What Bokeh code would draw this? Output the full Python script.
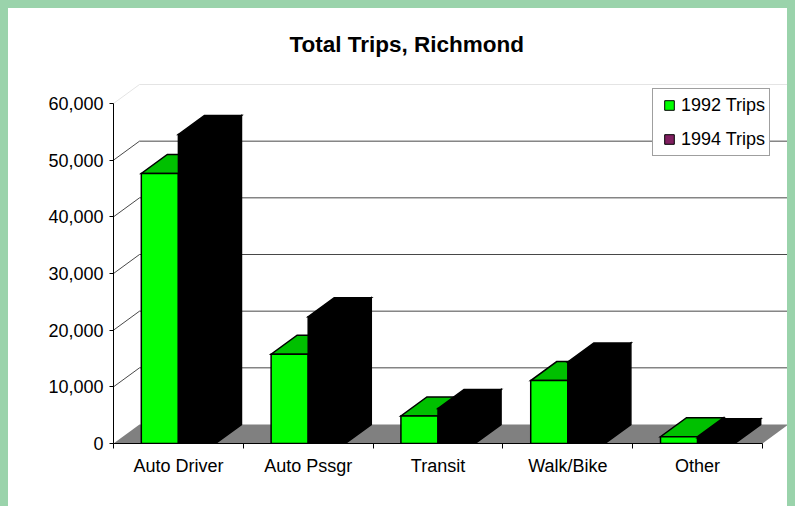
import math
from bokeh.plotting import figure
from bokeh.models import (Range1d, FixedTicker, NumeralTickFormatter, Legend, LegendItem,
                          ColumnDataSource)
from bokeh.embed import file_html
from bokeh.resources import INLINE

# ---------------- data ----------------
categories = ["Auto Driver", "Auto Pssgr", "Transit", "Walk/Bike", "Other"]
trips_1992 = [47650, 15750, 4870, 11100, 1200]
trips_1994 = [54550, 22350, 6180, 14400, 1000]
series_names = ["1992 Trips", "1994 Trips"]
y_ticks = [0, 10000, 20000, 30000, 40000, 50000, 60000]
chart_title = "Total Trips, Richmond"

# ---------------- geometry / style ----------------
FONT = "Liberation Sans"
PX_PER_CAT = 129.8
PX_PER_VAL = 340.0 / 60000.0
FRAME_W = 682
FRAME_H = 373
DEPTH_X = 26.0 / PX_PER_CAT
DEPTH_Y = 19.0 / PX_PER_VAL
BAR_W = 1.0 / 3.5
GAP = (1.0 - 2 * BAR_W) / 2.0

n = len(categories)
y_max_axis = y_ticks[-1]

p = figure(frame_width=FRAME_W, frame_height=FRAME_H,
           x_range=Range1d(0, FRAME_W / PX_PER_CAT),
           y_range=Range1d(0, FRAME_H / PX_PER_VAL),
           output_backend="svg", toolbar_location=None,
           min_border_left=105, min_border_right=0, min_border_top=62, min_border_bottom=63,
           background_fill_color="white", background_fill_alpha=0.0,
           border_fill_color="white", border_fill_alpha=0.0,
           outline_line_color=None)
p.styles = {"outline": "1px solid #5a5a5a", "background-color": "white"}
p.xgrid.visible = False
p.ygrid.visible = False

# title
p.title.text = chart_title
p.title.text_font = FONT
p.title.text_font_style = "bold"
p.title.text_font_size = "22.5px"
p.title.text_color = "black"
p.title.align = "left"
p.title.offset = 176
p.title.standoff = 27

# y axis
ya = p.yaxis[0]
ya.ticker = FixedTicker(ticks=y_ticks)
ya.formatter = NumeralTickFormatter(format="0,0")
ya.bounds = (0, y_max_axis)
ya.major_tick_out = 4
ya.major_tick_in = 0
ya.minor_tick_out = 0
ya.minor_tick_in = 0
ya.major_label_standoff = 6
ya.major_label_text_font = FONT
ya.major_label_text_font_size = "18px"
ya.major_label_text_color = "black"
ya.axis_line_color = "black"
ya.major_tick_line_color = "black"

# x axis (category labels at centres, tick marks at boundaries)
xa = p.xaxis[0]
centres = [i + 0.5 for i in range(n)]
xa.ticker = FixedTicker(ticks=centres, minor_ticks=list(range(n + 1)))
xa.major_label_overrides = {c: name for c, name in zip(centres, categories)}
xa.bounds = (0, n)
xa.major_tick_out = 0
xa.major_tick_in = 0
xa.minor_tick_out = 5
xa.minor_tick_in = 0
xa.minor_tick_line_color = "black"
xa.axis_line_color = "black"
xa.major_label_standoff = 7
xa.major_label_text_font = FONT
xa.major_label_text_font_size = "18px"
xa.major_label_text_color = "black"

# floor
p.patch(x=[0, n, n + DEPTH_X, DEPTH_X], y=[0, 0, DEPTH_Y, DEPTH_Y],
        fill_color="#808080", line_color=None)

# walls gridlines (left wall diagonals + back wall lines)
grid_vals = y_ticks[1:]
for v in grid_vals:
    col = "#e4e4e4" if v == y_max_axis else "#484848"
    p.segment(x0=[0, DEPTH_X], y0=[v, v + DEPTH_Y], x1=[DEPTH_X, n + DEPTH_X],
              y1=[v + DEPTH_Y, v + DEPTH_Y], line_color=col, line_width=1)


def bar_faces(values, s):
    fx0, fx1, fy0, fy1 = [], [], [], []
    tx, ty, sx, sy = [], [], [], []
    for i, v in enumerate(values):
        x0 = i + GAP + s * BAR_W
        x1 = x0 + BAR_W
        fx0.append(x0); fx1.append(x1); fy0.append(0); fy1.append(v)
        tx.append([x0, x1, x1 + DEPTH_X, x0 + DEPTH_X])
        ty.append([v, v, v + DEPTH_Y, v + DEPTH_Y])
        sx.append([x1, x1 + DEPTH_X, x1 + DEPTH_X, x1])
        sy.append([0, DEPTH_Y, v + DEPTH_Y, v])
    return (dict(left=fx0, right=fx1, bottom=fy0, top=fy1), dict(xs=tx, ys=ty), dict(xs=sx, ys=sy))


styles = [
    dict(front="#00FF00", top="#00C000", side="#008000"),
    dict(front="#000000", top="#000000", side="#000000"),
]
for s, vals in enumerate([trips_1992, trips_1994]):
    front, top, side = bar_faces(vals, s)
    st = styles[s]
    p.patches(xs="xs", ys="ys", source=ColumnDataSource(side), fill_color=st["side"],
              line_color="black", line_width=1.5, line_join="miter")
    p.patches(xs="xs", ys="ys", source=ColumnDataSource(top), fill_color=st["top"],
              line_color="black", line_width=1.5, line_join="miter")
    p.quad(left="left", right="right", bottom="bottom", top="top",
           source=ColumnDataSource(front), fill_color=st["front"],
           line_color="black", line_width=1.5, line_join="miter")

# legend (swatches)
legend_colors = ["#00FF00", "#802060"]
items = []
for name, c in zip(series_names, legend_colors):
    r = p.scatter(x=[math.nan], y=[math.nan], marker="square", size=10, fill_color=c,
                  line_color="black", line_width=1)
    items.append(LegendItem(label=name, renderers=[r]))

legend = Legend(items=items, location=(539, 287), orientation="vertical",
                glyph_width=24, glyph_height=24, label_height=24, label_standoff=-6,
                padding=4, spacing=10, margin=0,
                label_text_font=FONT, label_text_font_size="18px", label_text_color="black",
                border_line_color="#404040", border_line_width=1,
                background_fill_color="white", background_fill_alpha=1.0)
p.add_layout(legend, "center")

html = file_html(p, INLINE, title="Total Trips, Richmond")
html = html.replace("</head>",
                    "<style>html,body{overflow:hidden !important;} "
                    "body{background:#9AD3AB !important;margin:8px !important;}</style></head>", 1)
open("out.html", "w").write(html)
